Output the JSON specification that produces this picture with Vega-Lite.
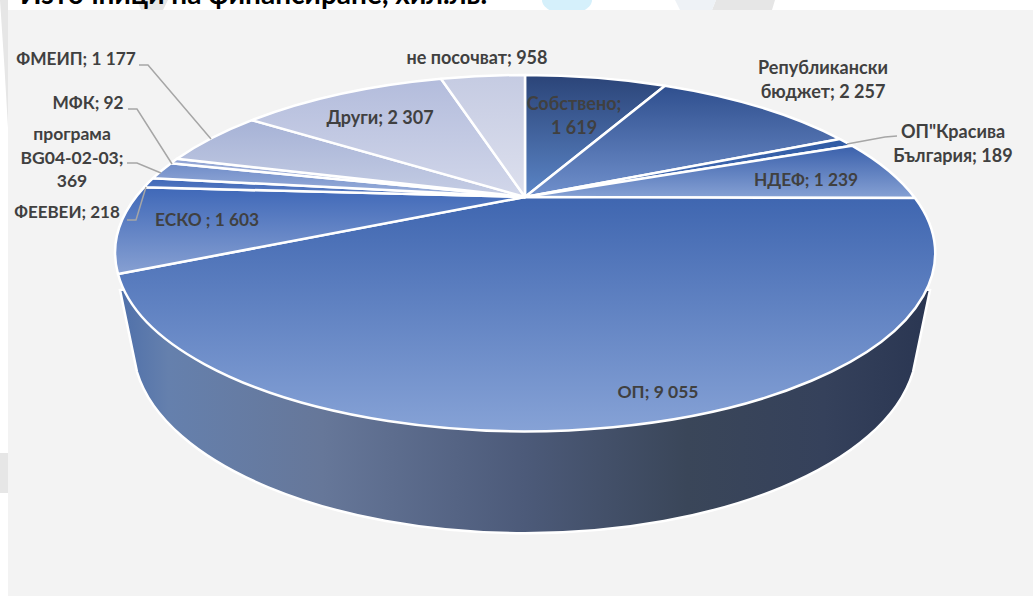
{
"$schema":"https://vega.github.io/schema/vega-lite/v6.json",
"width":1033,"height":596,"padding":0,"autosize":{"type":"none"},"background":"white",
"config":{"view":{"stroke":null},"text":{"font":"Lato"}},
"datasets":{"slices":[
{"name":"Собствено","value":1619,"label":"Собствено;\n1 619"},
{"name":"Републикански бюджет","value":2257,"label":"Републикански\nбюджет; 2 257"},
{"name":"ОП\"Красива България","value":189,"label":"ОП\"Красива\nБългария; 189"},
{"name":"НДЕФ","value":1239,"label":"НДЕФ; 1 239"},
{"name":"ОП","value":9055,"label":"ОП; 9 055"},
{"name":"ЕСКО","value":1603,"label":"ЕСКО ; 1 603"},
{"name":"ФЕЕВЕИ","value":218,"label":"ФЕЕВЕИ; 218"},
{"name":"програма BG04-02-03","value":369,"label":"програма\nBG04-02-03;\n369"},
{"name":"МФК","value":92,"label":"МФК; 92"},
{"name":"ФМЕИП","value":1177,"label":"ФМЕИП; 1 177"},
{"name":"Други","value":2307,"label":"Други; 2 307"},
{"name":"не посочват","value":958,"label":"не посочват; 958"}
]},
"data":{"name":"slices"},
"layer":[
{"data":{"values":[{"part":"a"}]},"mark":{"type":"point","filled":true,"size":4,"opacity":1,"fill":"#e6e6e6","shape":"M-516.5,-298 L-508.5,-298 L-508.5,-170 L-512,-230 Z M-379.5,-298 L-348.5,-298 L-353.5,-288 L-375.5,-288 Z M199.5,-298 L195.5,-288 L255.5,-288 L258.5,-298 Z M-516.5,155 L-508.5,155 L-508.5,195 L-516.5,195 Z"},"encoding":{}},
{"data":{"values":[{"part":"b"}]},"mark":{"type":"point","filled":true,"size":4,"opacity":1,"fill":"#eef2f6","shape":"M158.5,-298 L163.5,-288 L195.5,-288 L199.5,-298 Z"},"encoding":{}},
{"data":{"values":[{"part":"c"}]},"mark":{"type":"point","filled":true,"size":4,"opacity":1,"fill":"#d5f0fb","shape":"M25.5,-298 A25,14 0 0 0 75.5,-298 Z"},"encoding":{}},
{"data":{"values":[{"part":"panel"}]},"mark":{"type":"point","filled":true,"size":4,"opacity":1,"fill":"#f3f3f3","shape":"M-508.5,-288 L516.5,-288 L516.5,298 L-508.5,298 Z"},"encoding":{}},
{"data":{"values":[{"part":"side"}]},"mark":{"type":"point","filled":true,"size":4,"opacity":1,"stroke":"white","strokeWidth":2.5,
 "fill":{"gradient":"linear","x1":0,"y1":0,"x2":1,"y2":0,"stops":[{"offset":0,"color":"#4f70aa"},{"offset":0.06,"color":"#6580ad"},{"offset":0.25,"color":"#667799"},{"offset":0.5,"color":"#4c5a79"},{"offset":0.7,"color":"#3a4659"},{"offset":0.87,"color":"#35415b"},{"offset":1,"color":"#2a3652"}]},
 "shape":"M-396.5,-8 L-379.5,74 A392,188 0 0 0 396.5,74 L413.5,-8 L8.5,-60 Z"},"encoding":{}},
{"transform":[{"filter":{"field":"name","equal":"Собствено"}}],"mark":{"type":"point","filled":true,"size":4,"opacity":1,"stroke":"white","strokeWidth":2.5,"strokeJoin":"round","shape":"M8.5,-101 L8.5,-223 A410,178 0 0 1 148.5,-212.3 Z","fill":{"gradient":"linear","x1":0,"y1":0,"x2":0,"y2":1,"stops":[{"offset":0,"color":"#2b4478"},{"offset":1,"color":"#5b85c6"}]}},"encoding":{}},
{"transform":[{"filter":{"field":"name","equal":"Републикански бюджет"}}],"mark":{"type":"point","filled":true,"size":4,"opacity":1,"stroke":"white","strokeWidth":2.5,"strokeJoin":"round","shape":"M8.5,-101 L148.5,-212.3 A410,178 0 0 1 323.5,-158.9 Z","fill":{"gradient":"linear","x1":0,"y1":0,"x2":0,"y2":1,"stops":[{"offset":0,"color":"#2f4f8e"},{"offset":1,"color":"#7090cc"}]}},"encoding":{}},
{"transform":[{"filter":{"field":"name","equal":"ОП\"Красива България"}}],"mark":{"type":"point","filled":true,"size":4,"opacity":1,"stroke":"white","strokeWidth":2.5,"strokeJoin":"round","shape":"M8.5,-101 L323.5,-158.9 A410,178 0 0 1 335.5,-152.3 Z","fill":{"gradient":"linear","x1":0,"y1":0,"x2":0,"y2":1,"stops":[{"offset":0,"color":"#2f5aa3"},{"offset":1,"color":"#4a70b8"}]}},"encoding":{}},
{"transform":[{"filter":{"field":"name","equal":"НДЕФ"}}],"mark":{"type":"point","filled":true,"size":4,"opacity":1,"stroke":"white","strokeWidth":2.5,"strokeJoin":"round","shape":"M8.5,-101 L335.5,-152.3 A410,178 0 0 1 398.5,-99.9 Z","fill":{"gradient":"linear","x1":0,"y1":0,"x2":0,"y2":1,"stops":[{"offset":0,"color":"#3a60ab"},{"offset":1,"color":"#86a1d4"}]}},"encoding":{}},
{"transform":[{"filter":{"field":"name","equal":"ОП"}}],"mark":{"type":"point","filled":true,"size":4,"opacity":1,"stroke":"white","strokeWidth":2.5,"strokeJoin":"round","shape":"M8.5,-101 L398.5,-99.9 A410,178 0 1 1 -398.5,-24 Z","fill":{"gradient":"linear","x1":0,"y1":0,"x2":0,"y2":1,"stops":[{"offset":0,"color":"#3f66b0"},{"offset":1,"color":"#86a2d6"}]}},"encoding":{}},
{"transform":[{"filter":{"field":"name","equal":"ЕСКО"}}],"mark":{"type":"point","filled":true,"size":4,"opacity":1,"stroke":"white","strokeWidth":2.5,"strokeJoin":"round","shape":"M8.5,-101 L-398.5,-24 A410,178 0 0 1 -372.5,-110.7 Z","fill":{"gradient":"linear","x1":0,"y1":0,"x2":0,"y2":1,"stops":[{"offset":0,"color":"#3f68b8"},{"offset":1,"color":"#87a0d2"}]}},"encoding":{}},
{"transform":[{"filter":{"field":"name","equal":"ФЕЕВЕИ"}}],"mark":{"type":"point","filled":true,"size":4,"opacity":1,"stroke":"white","strokeWidth":2.5,"strokeJoin":"round","shape":"M8.5,-101 L-372.5,-110.7 A410,178 0 0 1 -363.5,-119.8 Z","fill":{"gradient":"linear","x1":0,"y1":0,"x2":0,"y2":1,"stops":[{"offset":0,"color":"#3f68b8"},{"offset":1,"color":"#5f80c4"}]}},"encoding":{}},
{"transform":[{"filter":{"field":"name","equal":"програма BG04-02-03"}}],"mark":{"type":"point","filled":true,"size":4,"opacity":1,"stroke":"white","strokeWidth":2.5,"strokeJoin":"round","shape":"M8.5,-101 L-363.5,-119.8 A410,178 0 0 1 -345.5,-134.7 Z","fill":{"gradient":"linear","x1":0,"y1":0,"x2":0,"y2":1,"stops":[{"offset":0,"color":"#6f8cc8"},{"offset":1,"color":"#9db1db"}]}},"encoding":{}},
{"transform":[{"filter":{"field":"name","equal":"МФК"}}],"mark":{"type":"point","filled":true,"size":4,"opacity":1,"stroke":"white","strokeWidth":2.5,"strokeJoin":"round","shape":"M8.5,-101 L-345.5,-134.7 A410,178 0 0 1 -339.5,-139.2 Z","fill":{"gradient":"linear","x1":0,"y1":0,"x2":0,"y2":1,"stops":[{"offset":0,"color":"#8fa3d3"},{"offset":1,"color":"#b3c0e0"}]}},"encoding":{}},
{"transform":[{"filter":{"field":"name","equal":"ФМЕИП"}}],"mark":{"type":"point","filled":true,"size":4,"opacity":1,"stroke":"white","strokeWidth":2.5,"strokeJoin":"round","shape":"M8.5,-101 L-339.5,-139.2 A410,178 0 0 1 -264.5,-177.8 Z","fill":{"gradient":"linear","x1":0,"y1":0,"x2":0,"y2":1,"stops":[{"offset":0,"color":"#a6b2d6"},{"offset":1,"color":"#c5cde4"}]}},"encoding":{}},
{"transform":[{"filter":{"field":"name","equal":"Други"}}],"mark":{"type":"point","filled":true,"size":4,"opacity":1,"stroke":"white","strokeWidth":2.5,"strokeJoin":"round","shape":"M8.5,-101 L-264.5,-177.8 A410,178 0 0 1 -75.5,-219.2 Z","fill":{"gradient":"linear","x1":0,"y1":0,"x2":0,"y2":1,"stops":[{"offset":0,"color":"#b3bcdc"},{"offset":1,"color":"#d2d7ea"}]}},"encoding":{}},
{"transform":[{"filter":{"field":"name","equal":"не посочват"}}],"mark":{"type":"point","filled":true,"size":4,"opacity":1,"stroke":"white","strokeWidth":2.5,"strokeJoin":"round","shape":"M8.5,-101 L-75.5,-219.2 A410,178 0 0 1 8.5,-223 Z","fill":{"gradient":"linear","x1":0,"y1":0,"x2":0,"y2":1,"stops":[{"offset":0,"color":"#c5cbe2"},{"offset":1,"color":"#dde0ee"}]}},"encoding":{}},
{"transform":[{"filter":{"field":"name","oneOf":["ФМЕИП","МФК","програма BG04-02-03","ФЕЕВЕИ","ОП\"Красива България"]}}],
 "mark":{"type":"point","filled":false,"size":4,"opacity":1,"fill":null,"stroke":"#a6a6a6","strokeWidth":1.5},
 "encoding":{"shape":{"field":"name","type":"nominal","legend":null,"scale":{
   "domain":["ФМЕИП","МФК","програма BG04-02-03","ФЕЕВЕИ","ОП\"Красива България"],
   "range":["M-377.5,-233 L-368.5,-233 L-305.5,-159","M-388.5,-189 L-379.5,-189 L-344.5,-134","M-389.5,-135 L-379.5,-135 L-355.5,-125","M-389.5,-78 L-380.5,-78 L-370.5,-111","M330.5,-154 L368.5,-161 L380.5,-162"]}}}},
{"data":{"values":[{"t":"Източници на финансиране, хил.лв."}]},"mark":{"type":"text","font":"Lato","fontWeight":"bold","fontSize":28,"color":"black","align":"left","baseline":"alphabetic","dx":-496.5,"dy":-294},"encoding":{"text":{"field":"t"}}},
{"transform":[{"filter":{"field":"name","equal":"ФМЕИП"}}],"mark":{"type":"text","fontWeight":"bold","fontSize":17.3,"color":"#404040","lineBreak":"\n","lineHeight":24,"dx":-440.5,"dy":-238},"encoding":{"text":{"field":"label"}}},
{"transform":[{"filter":{"field":"name","equal":"МФК"}}],"mark":{"type":"text","fontWeight":"bold","fontSize":17.3,"color":"#404040","lineBreak":"\n","lineHeight":24,"dx":-428.5,"dy":-194},"encoding":{"text":{"field":"label"}}},
{"transform":[{"filter":{"field":"name","equal":"програма BG04-02-03"}}],"mark":{"type":"text","fontWeight":"bold","fontSize":17.5,"color":"#404040","lineBreak":"\n","lineHeight":23.5,"dx":-444.5,"dy":-163},"encoding":{"text":{"field":"label"}}},
{"transform":[{"filter":{"field":"name","equal":"ФЕЕВЕИ"}}],"mark":{"type":"text","fontWeight":"bold","fontSize":17,"color":"#404040","lineBreak":"\n","lineHeight":24,"dx":-449.5,"dy":-85},"encoding":{"text":{"field":"label"}}},
{"transform":[{"filter":{"field":"name","equal":"ЕСКО"}}],"mark":{"type":"text","fontWeight":"bold","fontSize":17.3,"color":"#404040","lineBreak":"\n","lineHeight":24,"dx":-309.5,"dy":-77},"encoding":{"text":{"field":"label"}}},
{"transform":[{"filter":{"field":"name","equal":"Други"}}],"mark":{"type":"text","fontWeight":"bold","fontSize":18,"color":"#404040","lineBreak":"\n","lineHeight":24,"dx":-136.5,"dy":-179},"encoding":{"text":{"field":"label"}}},
{"transform":[{"filter":{"field":"name","equal":"не посочват"}}],"mark":{"type":"text","fontWeight":"bold","fontSize":18,"color":"#404040","lineBreak":"\n","lineHeight":24,"dx":-39.5,"dy":-239},"encoding":{"text":{"field":"label"}}},
{"transform":[{"filter":{"field":"name","equal":"Собствено"}}],"mark":{"type":"text","fontWeight":"bold","fontSize":18,"color":"#404040","lineBreak":"\n","lineHeight":24,"dx":57.5,"dy":-193},"encoding":{"text":{"field":"label"}}},
{"transform":[{"filter":{"field":"name","equal":"Републикански бюджет"}}],"mark":{"type":"text","fontWeight":"bold","fontSize":18,"color":"#404040","lineBreak":"\n","lineHeight":24,"dx":306.5,"dy":-229},"encoding":{"text":{"field":"label"}}},
{"transform":[{"filter":{"field":"name","equal":"ОП\"Красива България"}}],"mark":{"type":"text","fontWeight":"bold","fontSize":18,"color":"#404040","lineBreak":"\n","lineHeight":24,"dx":436.5,"dy":-165},"encoding":{"text":{"field":"label"}}},
{"transform":[{"filter":{"field":"name","equal":"НДЕФ"}}],"mark":{"type":"text","fontWeight":"bold","fontSize":17.3,"color":"#404040","lineBreak":"\n","lineHeight":24,"dx":289.5,"dy":-117},"encoding":{"text":{"field":"label"}}},
{"transform":[{"filter":{"field":"name","equal":"ОП"}}],"mark":{"type":"text","fontWeight":"bold","fontSize":17.5,"color":"#404040","lineBreak":"\n","lineHeight":24,"dx":141.5,"dy":95},"encoding":{"text":{"field":"label"}}}
]
}
